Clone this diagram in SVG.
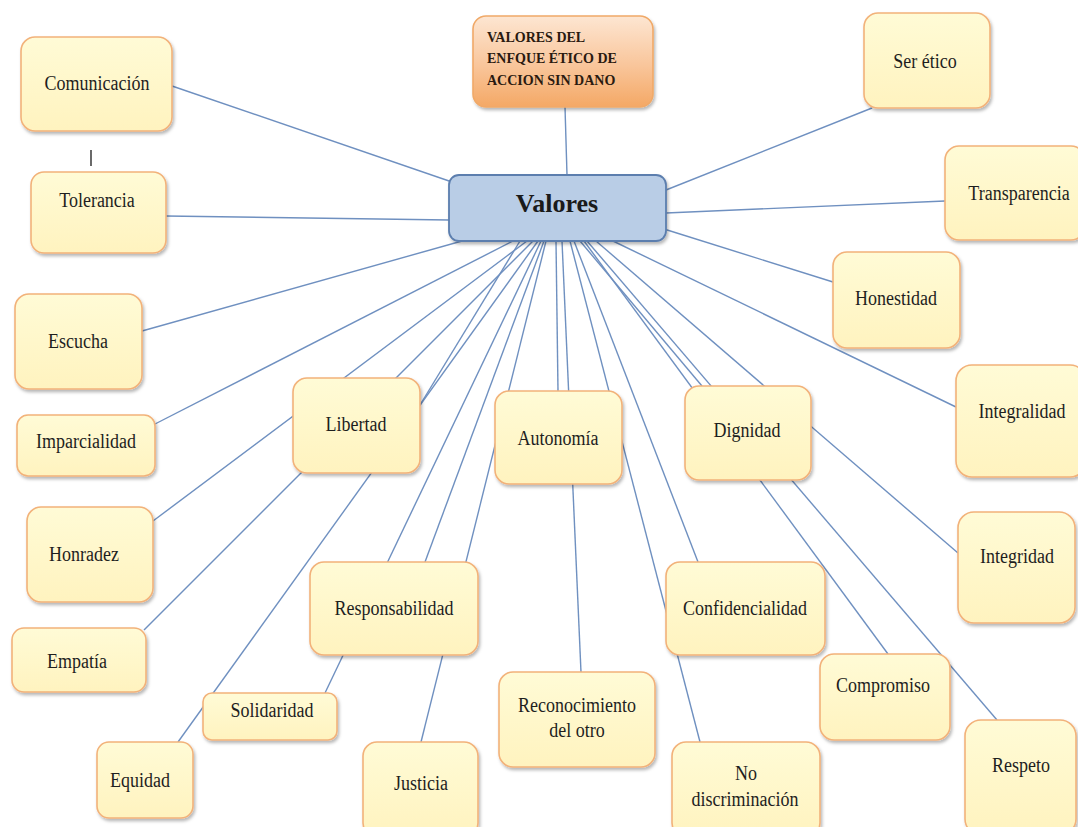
<svg xmlns="http://www.w3.org/2000/svg" width="1078" height="827" viewBox="0 0 1078 827">
  <defs>
    <filter id="shadow" x="-10%" y="-10%" width="125%" height="130%">
      <feDropShadow dx="1.5" dy="2.5" stdDeviation="1.6" flood-color="#000" flood-opacity="0.28"/>
    </filter>
    <linearGradient id="orangeFill" x1="0" y1="0" x2="0" y2="1">
      <stop offset="0" stop-color="#fde6d2"/>
      <stop offset="0.55" stop-color="#f9c59a"/>
      <stop offset="1" stop-color="#f4a865"/>
    </linearGradient>
    <linearGradient id="yellowFill" x1="0" y1="0" x2="0" y2="1">
      <stop offset="0" stop-color="#fffbd6"/>
      <stop offset="1" stop-color="#fff3bf"/>
    </linearGradient>
    <style>
      .box { fill: url(#yellowFill); stroke: #f2b27a; stroke-width: 1.6; filter: url(#shadow); }
      .lbl { font-family: "Liberation Serif", "Times New Roman", serif; font-size: 18px; fill: #1e1e1e; text-anchor: middle; }
      .conn line { stroke: #6f90c0; stroke-width: 1.4; }
      .hdr { font-family: "Liberation Serif", "Times New Roman", serif; font-size: 14px; font-weight: bold; fill: #2a1a10; }
    </style>
  </defs>
  <rect width="1078" height="827" fill="#ffffff"/>

  <!-- connectors: drawn first so boxes sit on top -->
  <g id="connectors" class="conn">
    <line x1="565" y1="107" x2="567" y2="175"/>
    <line x1="452" y1="182" x2="172" y2="86"/>
    <line x1="449" y1="220" x2="166" y2="216"/>
    <line x1="666" y1="190" x2="872" y2="108"/>
    <line x1="666" y1="213" x2="945" y2="201"/>
    <line x1="664" y1="229" x2="833" y2="282"/>
    <line x1="613" y1="241" x2="956" y2="407"/>
    <line x1="462" y1="241" x2="142" y2="331"/>
    <line x1="513" y1="241" x2="155" y2="424"/>
    <line x1="520" y1="241" x2="420" y2="405"/>
    <line x1="527" y1="241" x2="153" y2="521"/>
    <line x1="533" y1="241" x2="144" y2="630"/>
    <line x1="538" y1="241" x2="178" y2="742"/>
    <line x1="541" y1="241" x2="325" y2="693"/>
    <line x1="544" y1="241" x2="425" y2="562"/>
    <line x1="546" y1="241" x2="421" y2="742"/>
    <line x1="556" y1="241" x2="558" y2="391"/>
    <line x1="562" y1="241" x2="581" y2="672"/>
    <line x1="570" y1="241" x2="700" y2="742"/>
    <line x1="574" y1="241" x2="698" y2="562"/>
    <line x1="580" y1="241" x2="702" y2="386"/>
    <line x1="584" y1="241" x2="888" y2="654"/>
    <line x1="587" y1="241" x2="997" y2="720"/>
    <line x1="596" y1="241" x2="958" y2="553"/>
  </g>

  <!-- short vertical tick between Comunicación and Tolerancia -->
  <line x1="91" y1="150" x2="91" y2="166" stroke="#444" stroke-width="1.6"/>

  <g id="titulo">
    <rect x="473" y="16" width="180" height="91" rx="13" fill="url(#orangeFill)" stroke="#f0a968" stroke-width="1.6" filter="url(#shadow)"/>
    <text class="hdr" x="487" y="42">VALORES DEL</text>
    <text class="hdr" x="487" y="63">ENFQUE ÉTICO DE</text>
    <text class="hdr" x="487" y="85">ACCION SIN DANO</text>
  </g>

  <g id="valores">
    <rect x="449" y="175" width="217" height="66" rx="10" fill="#b9cde6" stroke="#5b7eae" stroke-width="1.8" filter="url(#shadow)"/>
    <text x="557" y="212" font-family="'Liberation Serif', 'Times New Roman', serif" font-size="26" font-weight="bold" fill="#1a1a1a" text-anchor="middle">Valores</text>
  </g>

  <g id="comunicacion">
    <rect class="box" x="21" y="37" width="151" height="94" rx="14"/>
    <text class="lbl" transform="translate(97 90) scale(1 1.2)">Comunicación</text>
  </g>
  <g id="tolerancia">
    <rect class="box" x="31" y="172" width="135" height="81" rx="13"/>
    <text class="lbl" transform="translate(97 207) scale(1 1.2)">Tolerancia</text>
  </g>
  <g id="escucha">
    <rect class="box" x="15" y="294" width="127" height="95" rx="14"/>
    <text class="lbl" transform="translate(78 348) scale(1 1.2)">Escucha</text>
  </g>
  <g id="imparcialidad">
    <rect class="box" x="17" y="415" width="138" height="61" rx="11"/>
    <text class="lbl" transform="translate(86 448) scale(1 1.2)">Imparcialidad</text>
  </g>
  <g id="honradez">
    <rect class="box" x="27" y="507" width="126" height="95" rx="14"/>
    <text class="lbl" transform="translate(84 561) scale(1 1.2)">Honradez</text>
  </g>
  <g id="empatia">
    <rect class="box" x="12" y="628" width="134" height="64" rx="12"/>
    <text class="lbl" transform="translate(77 668) scale(1 1.2)">Empatía</text>
  </g>
  <g id="equidad">
    <rect class="box" x="97" y="742" width="96" height="76" rx="12"/>
    <text class="lbl" transform="translate(140 787) scale(1 1.2)">Equidad</text>
  </g>
  <g id="solidaridad">
    <rect class="box" x="203" y="693" width="134" height="47" rx="9"/>
    <text class="lbl" transform="translate(272 717) scale(1 1.2)">Solidaridad</text>
  </g>
  <g id="libertad">
    <rect class="box" x="293" y="378" width="127" height="95" rx="14"/>
    <text class="lbl" transform="translate(356 431) scale(1 1.2)">Libertad</text>
  </g>
  <g id="responsabilidad">
    <rect class="box" x="310" y="562" width="168" height="93" rx="14"/>
    <text class="lbl" transform="translate(394 615) scale(1 1.2)">Responsabilidad</text>
  </g>
  <g id="justicia">
    <rect class="box" x="363" y="742" width="115" height="95" rx="14"/>
    <text class="lbl" transform="translate(421 790) scale(1 1.2)">Justicia</text>
  </g>
  <g id="autonomia">
    <rect class="box" x="495" y="391" width="127" height="93" rx="14"/>
    <text class="lbl" transform="translate(558 445) scale(1 1.2)">Autonomía</text>
  </g>
  <g id="reconocimiento">
    <rect class="box" x="499" y="672" width="156" height="95" rx="14"/>
    <text class="lbl" transform="translate(577 712) scale(1 1.2)">Reconocimiento</text>
    <text class="lbl" transform="translate(577 737) scale(1 1.2)">del otro</text>
  </g>
  <g id="dignidad">
    <rect class="box" x="685" y="386" width="126" height="94" rx="14"/>
    <text class="lbl" transform="translate(747 437) scale(1 1.2)">Dignidad</text>
  </g>
  <g id="confidencialidad">
    <rect class="box" x="666" y="562" width="159" height="93" rx="14"/>
    <text class="lbl" transform="translate(745 615) scale(1 1.2)">Confidencialidad</text>
  </g>
  <g id="no-discriminacion">
    <rect class="box" x="672" y="742" width="148" height="95" rx="14"/>
    <text class="lbl" transform="translate(746 780) scale(1 1.2)">No</text>
    <text class="lbl" transform="translate(745 806) scale(1 1.2)">discriminación</text>
  </g>
  <g id="compromiso">
    <rect class="box" x="820" y="654" width="130" height="86" rx="14"/>
    <text class="lbl" transform="translate(883 692) scale(1 1.2)">Compromiso</text>
  </g>
  <g id="respeto">
    <rect class="box" x="965" y="720" width="111" height="115" rx="16"/>
    <text class="lbl" font-size="20" transform="translate(1021 772) scale(1 1.2)">Respeto</text>
  </g>
  <g id="integridad">
    <rect class="box" x="958" y="512" width="117" height="111" rx="16"/>
    <text class="lbl" transform="translate(1017 563) scale(1 1.2)">Integridad</text>
  </g>
  <g id="integralidad">
    <rect class="box" x="956" y="365" width="130" height="112" rx="16"/>
    <text class="lbl" transform="translate(1022 418) scale(1 1.2)">Integralidad</text>
  </g>
  <g id="honestidad">
    <rect class="box" x="833" y="252" width="127" height="96" rx="14"/>
    <text class="lbl" transform="translate(896 305) scale(1 1.2)">Honestidad</text>
  </g>
  <g id="transparencia">
    <rect class="box" x="945" y="146" width="140" height="94" rx="14"/>
    <text class="lbl" transform="translate(1019 200) scale(1 1.2)">Transparencia</text>
  </g>
  <g id="ser-etico">
    <rect class="box" x="864" y="13" width="126" height="95" rx="14"/>
    <text class="lbl" transform="translate(925 68) scale(1 1.2)">Ser ético</text>
  </g>
</svg>
